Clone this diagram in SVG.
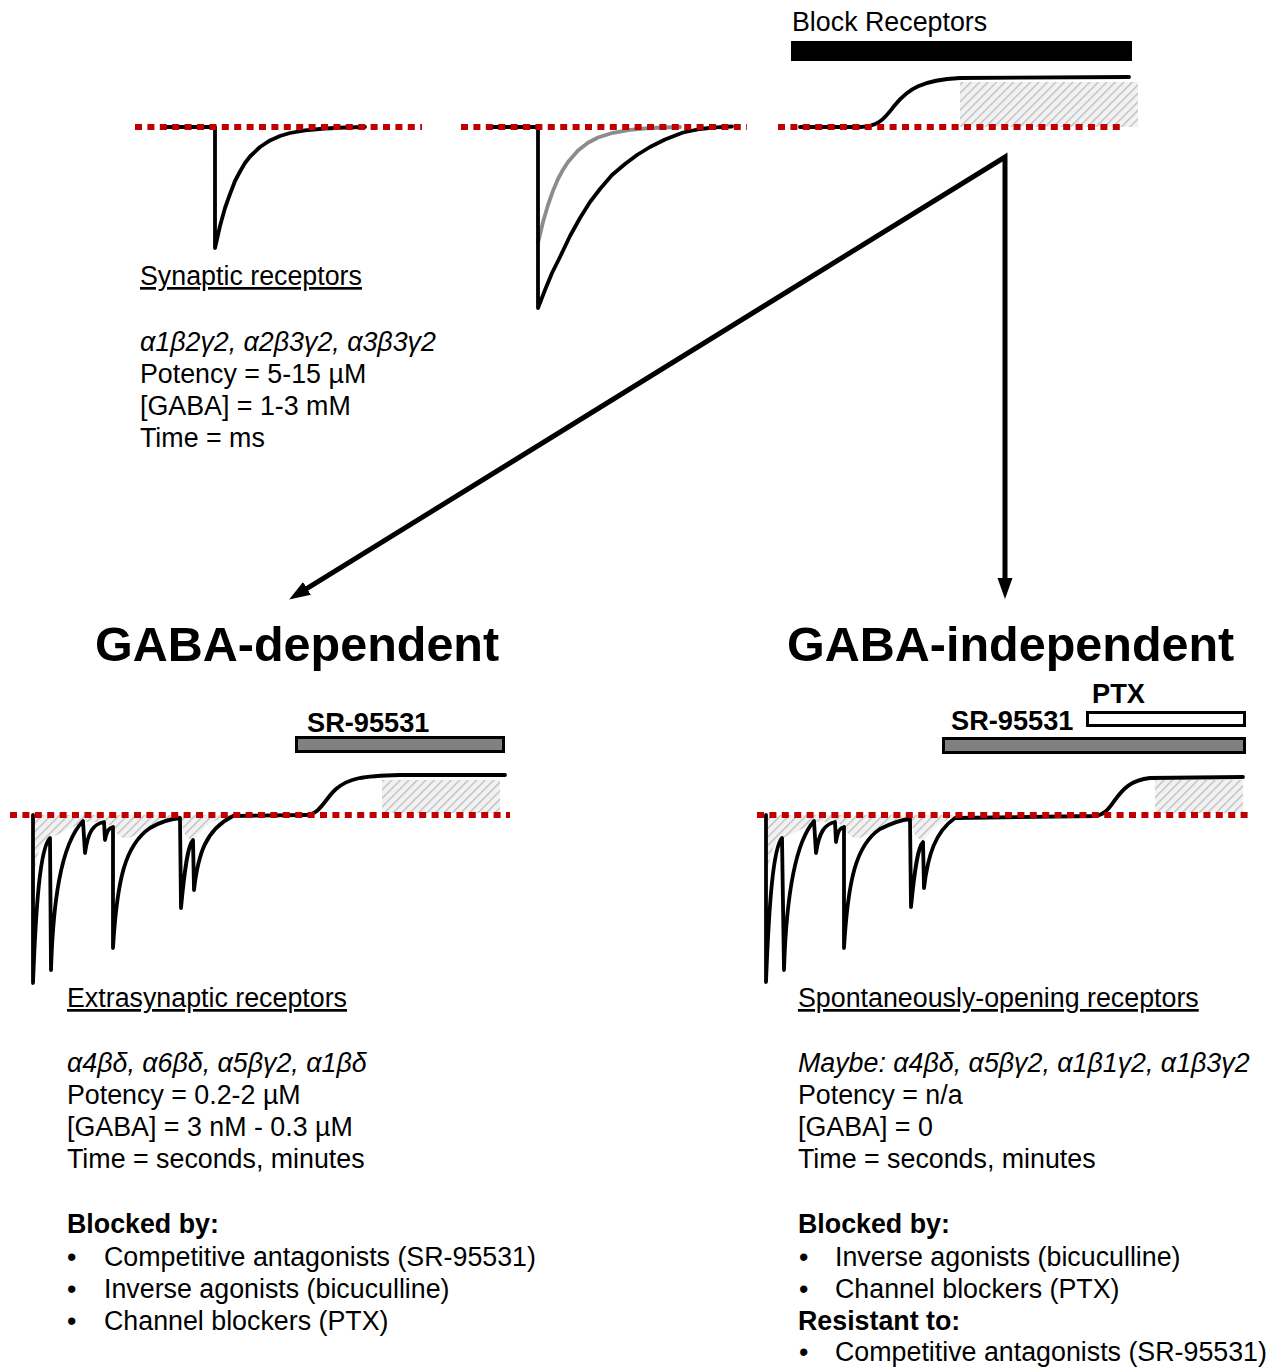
<svg xmlns="http://www.w3.org/2000/svg" width="1281" height="1367" viewBox="0 0 1281 1367">
<style>
text{font-family:"Liberation Sans",Arial,sans-serif;fill:#000}
.t{font-size:26.8px}
.it{font-style:italic}
.b{font-weight:bold}
.h{font-size:48.5px;font-weight:bold}
.u{text-decoration:underline}
.lb{font-size:27.2px;font-weight:bold}
.base{stroke:#c00000;stroke-width:6;stroke-dasharray:7 5.4;fill:none}
.tr{stroke:#000;stroke-width:3.8;fill:none;stroke-linejoin:round;stroke-linecap:round}
.gr{stroke:#8c8c8c;stroke-width:3.8;fill:none;stroke-linejoin:round;stroke-linecap:round}
.hat{fill:url(#hatch);stroke:none}
.bar{fill:#808080;stroke:#000;stroke-width:3}
.conn{stroke:#000;stroke-width:5;fill:none;stroke-linejoin:miter}
</style>
<defs>
<pattern id="hatch" width="6" height="6" patternUnits="userSpaceOnUse" patternTransform="rotate(45)">
<rect width="6" height="6" fill="#f2f2f2"/>
<line x1="0" y1="0" x2="0" y2="6" stroke="#bcbcbc" stroke-width="2.6"/>
</pattern>
<marker id="ah" markerUnits="userSpaceOnUse" markerWidth="24" markerHeight="18" refX="8" refY="9" orient="auto-start-reverse">
<path d="M0,1.5 L21,9 L0,16.5 Z" fill="#000"/>
</marker>
</defs>

<g id="trace-synaptic">
<path class="tr" d="M167,127 L215,127 L215,248 L220,226 L225,208 L230,194 L235,181 L240,171.5 L245,163 L250,156.5 L260,147 L270,140.4 L280,136 L290,133 L305,130.3 L325,128.5 L345,127.5 L365,127"/>
<line class="base" x1="135" y1="127" x2="422" y2="127"/>
</g>

<g id="trace-extrasynaptic-top">
<path class="gr" d="M538,243 L543,222 L548,205 L553,190.7 L558,179 L563,169.7 L568,162 L578,150.4 L588,142.7 L598,137.5 L613,132.8 L630,129.9 L650,128 L680,127"/>
<path class="tr" d="M492,127 L538,127 L538,308 L545,290 L552,273 L560,257 L570,236 L580,218 L590,202 L600,189 L612,175 L625,164 L637,155 L650,147 L665,139.5 L683,132.5 L700,129 L715,127.3 L732,126.5"/>
<line class="base" x1="461" y1="127" x2="747" y2="127"/>
</g>

<g id="block-receptors">
<text class="t" x="792" y="31">Block Receptors</text>
<rect x="791" y="41" width="341" height="20" fill="#000"/>
<rect class="hat" x="960" y="82" width="178" height="45"/>
<path class="tr" d="M800,127 L860,127 C880,127 886,116 895,105 C908,89 922,80 960,78 L1129,77"/>
<line class="base" x1="778" y1="127" x2="1123" y2="127"/>
</g>

<g id="synaptic-text">
<text class="t u" x="140" y="285">Synaptic receptors</text>
<text class="t it" x="140" y="351">α1β2γ2, α2β3γ2, α3β3γ2</text>
<text class="t" x="140" y="383">Potency = 5-15 µM</text>
<text class="t" x="140" y="415">[GABA] = 1-3 mM</text>
<text class="t" x="140" y="447">Time = ms</text>
</g>

<g id="connectors">
<path class="conn" d="M300.2,592.7 L1005,157 L1005,586" marker-start="url(#ah)" marker-end="url(#ah)"/>
</g>

<g id="gaba-dependent">
<text class="h" x="95" y="661">GABA-dependent</text>
<text class="lb" x="307" y="732">SR-95531</text>
<rect class="bar" x="296.5" y="737.5" width="207" height="14"/>
<rect class="hat" x="382" y="780" width="118" height="33"/>
<path class="hat" d="M35,815 L35,870 C38,850 42,840 50,838 C60,834 70,828 83,822 L104,822 L113,827 C122,845 130,838 150,828 C165,820 175,819 181,818 L183,830 C186,838 190,840 194,840 C205,825 215,818 235,815 Z"/>
<path class="tr" d="M33,815 L33,983 C36,905 40,848 50,838 L51,970 C53,905 60,845 83,821 L85,853 C88,832 93,824 104,822 L105,840 C107,830 109,828 113,827 L113,948 C117,880 125,845 150,828 C160,822 170,819 180,818 L181,908 C185,865 188,845 193,840 L194,890 C198,855 205,830 233,816 L305,815 C320,815 324,800 336,789 C349,778 362,776 400,775 L505,775"/>
<line class="base" x1="10" y1="815" x2="510" y2="815"/>
</g>

<g id="extrasynaptic-text">
<text class="t u" x="67" y="1007">Extrasynaptic receptors</text>
<text class="t it" x="67" y="1072">α4βδ, α6βδ, α5βγ2, α1βδ</text>
<text class="t" x="67" y="1104">Potency = 0.2-2 µM</text>
<text class="t" x="67" y="1136">[GABA] = 3 nM - 0.3 µM</text>
<text class="t" x="67" y="1168">Time = seconds, minutes</text>
<text class="t b" x="67" y="1233">Blocked by:</text>
<text class="t" x="67" y="1266">•</text>
<text class="t" x="104" y="1266">Competitive antagonists (SR-95531)</text>
<text class="t" x="67" y="1298">•</text>
<text class="t" x="104" y="1298">Inverse agonists (bicuculline)</text>
<text class="t" x="67" y="1330">•</text>
<text class="t" x="104" y="1330">Channel blockers (PTX)</text>
</g>

<g id="gaba-independent">
<text class="h" x="787" y="661">GABA-independent</text>
<text class="lb" x="1092" y="703">PTX</text>
<rect x="1087.5" y="712.5" width="157" height="13" fill="#fff" stroke="#000" stroke-width="3"/>
<text class="lb" x="951" y="730">SR-95531</text>
<rect class="bar" x="943.5" y="738.5" width="301" height="14"/>
<rect class="hat" x="1155" y="780" width="88" height="33"/>
<path class="hat" d="M768,815 L768,870 C771,850 775,840 783,838 C793,834 803,828 816,822 L836,822 L844,827 C853,845 861,838 880,829 C895,821 903,820 911,819 L913,830 C916,838 920,840 924,840 C935,825 945,818 965,815 Z"/>
<path class="tr" d="M766,815 L766,982 C769,905 773,848 782,838 L784,970 C786,905 793,845 814,821 L816,853 C819,832 825,824 835,822 L836,842 C838,830 840,828 844,827 L844,948 C848,880 856,845 880,829 C892,823 900,820 910,819 L911,907 C915,866 918,847 923,842 L924,888 C928,855 935,832 955,818 L1095,816 C1105,815 1109,808 1115,800 C1123,789 1131,780 1150,778 L1243,777"/>
<line class="base" x1="757" y1="815" x2="1250" y2="815"/>
</g>

<g id="spontaneous-text">
<text class="t u" x="798" y="1007">Spontaneously-opening receptors</text>
<text class="t it" x="798" y="1072">Maybe: α4βδ, α5βγ2, α1β1γ2, α1β3γ2</text>
<text class="t" x="798" y="1104">Potency = n/a</text>
<text class="t" x="798" y="1136">[GABA] = 0</text>
<text class="t" x="798" y="1168">Time = seconds, minutes</text>
<text class="t b" x="798" y="1233">Blocked by:</text>
<text class="t" x="799" y="1266">•</text>
<text class="t" x="835" y="1266">Inverse agonists (bicuculline)</text>
<text class="t" x="799" y="1298">•</text>
<text class="t" x="835" y="1298">Channel blockers (PTX)</text>
<text class="t b" x="798" y="1330">Resistant to:</text>
<text class="t" x="799" y="1361">•</text>
<text class="t" x="835" y="1361">Competitive antagonists (SR-95531)</text>
</g>
</svg>
